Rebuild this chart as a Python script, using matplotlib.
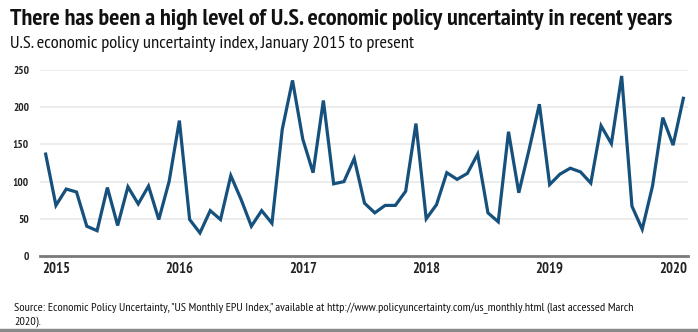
import matplotlib.pyplot as plt
from matplotlib import font_manager

# US monthly economic policy uncertainty index, one value per month
epu = [137, 68, 90, 86, 40, 34, 92, 41, 93, 70, 94, 49, 100, 182,
       49, 31, 61, 49, 108, 76, 40, 61, 44, 170, 236, 157, 112, 209,
       97, 100, 131, 71, 58, 68, 68, 87, 178, 50, 69, 112, 103, 111,
       137, 58, 46, 167, 85, 143, 204, 96, 110, 118, 113, 98, 175, 151,
       242, 67, 36, 94, 186, 149, 212]
year_idx = [1, 13, 25, 37, 49, 61]
year_labels = ['2015', '2016', '2017', '2018', '2019', '2020']
y_ticks = [0, 50, 100, 150, 200, 250]

names = {f.name for f in font_manager.fontManager.ttflist}
narrow = 'DejaVu Sans'
for cand in ['PT Sans Narrow', 'Fira Sans Condensed', 'Roboto Condensed',
             'Open Sans Condensed', 'Asap Condensed', 'Liberation Sans Narrow']:
    if cand in names:
        narrow = cand
        break
plt.rcParams['font.family'] = [narrow, 'DejaVu Sans']

fig = plt.figure(figsize=(6.98, 3.32), dpi=100)
ax = fig.add_axes([40 / 698, 1 - 256 / 332, 648 / 698, 186 / 332])

ax.plot(range(len(epu)), epu, color='#16507c', lw=2.3, solid_joinstyle='miter', zorder=3)

ax.set_ylim(0, 250)
ax.set_xlim(-0.55, len(epu) - 0.55)
ax.set_yticks(y_ticks)
ax.set_yticklabels([str(v) for v in y_ticks], fontsize=8, fontweight='bold', color='#222222')
ax.set_xticks(year_idx)
ax.set_xticklabels(year_labels, fontsize=10.5, fontweight='bold', color='#222222')
ax.tick_params(axis='both', length=0)
ax.tick_params(axis='y', pad=8)
ax.tick_params(axis='x', pad=4)
ax.yaxis.grid(True, color='#ebebeb', lw=1.3)
ax.set_axisbelow(True)
for s in ['top', 'right', 'left']:
    ax.spines[s].set_visible(False)
ax.spines['bottom'].set_color('#7a7a7a')
ax.spines['bottom'].set_linewidth(2)
ax.spines['bottom'].set_zorder(4)

fig.text(10 / 698, 1 - 25 / 332,
         'There has been a high level of U.S. economic policy uncertainty in recent years',
         fontsize=17.3, fontweight='bold', color='#111111')
fig.text(10 / 698, 1 - 48 / 332,
         'U.S. economic policy uncertainty index, January 2015 to present',
         fontsize=13.3, color='#111111')
fig.text(14 / 698, 1 - 324 / 332,
         'Source: Economic Policy Uncertainty, "US Monthly EPU Index," available at '
         'http://www.policyuncertainty.com/us_monthly.html (last accessed March\n2020).',
         fontsize=8.7, color='#111111', linespacing=1.2)
fig.add_artist(plt.Line2D([0, 1], [1 - 330 / 332, 1 - 330 / 332], color='#8a8a8a', lw=2.5,
                          transform=fig.transFigure))

fig.savefig('out.png', dpi=100)
